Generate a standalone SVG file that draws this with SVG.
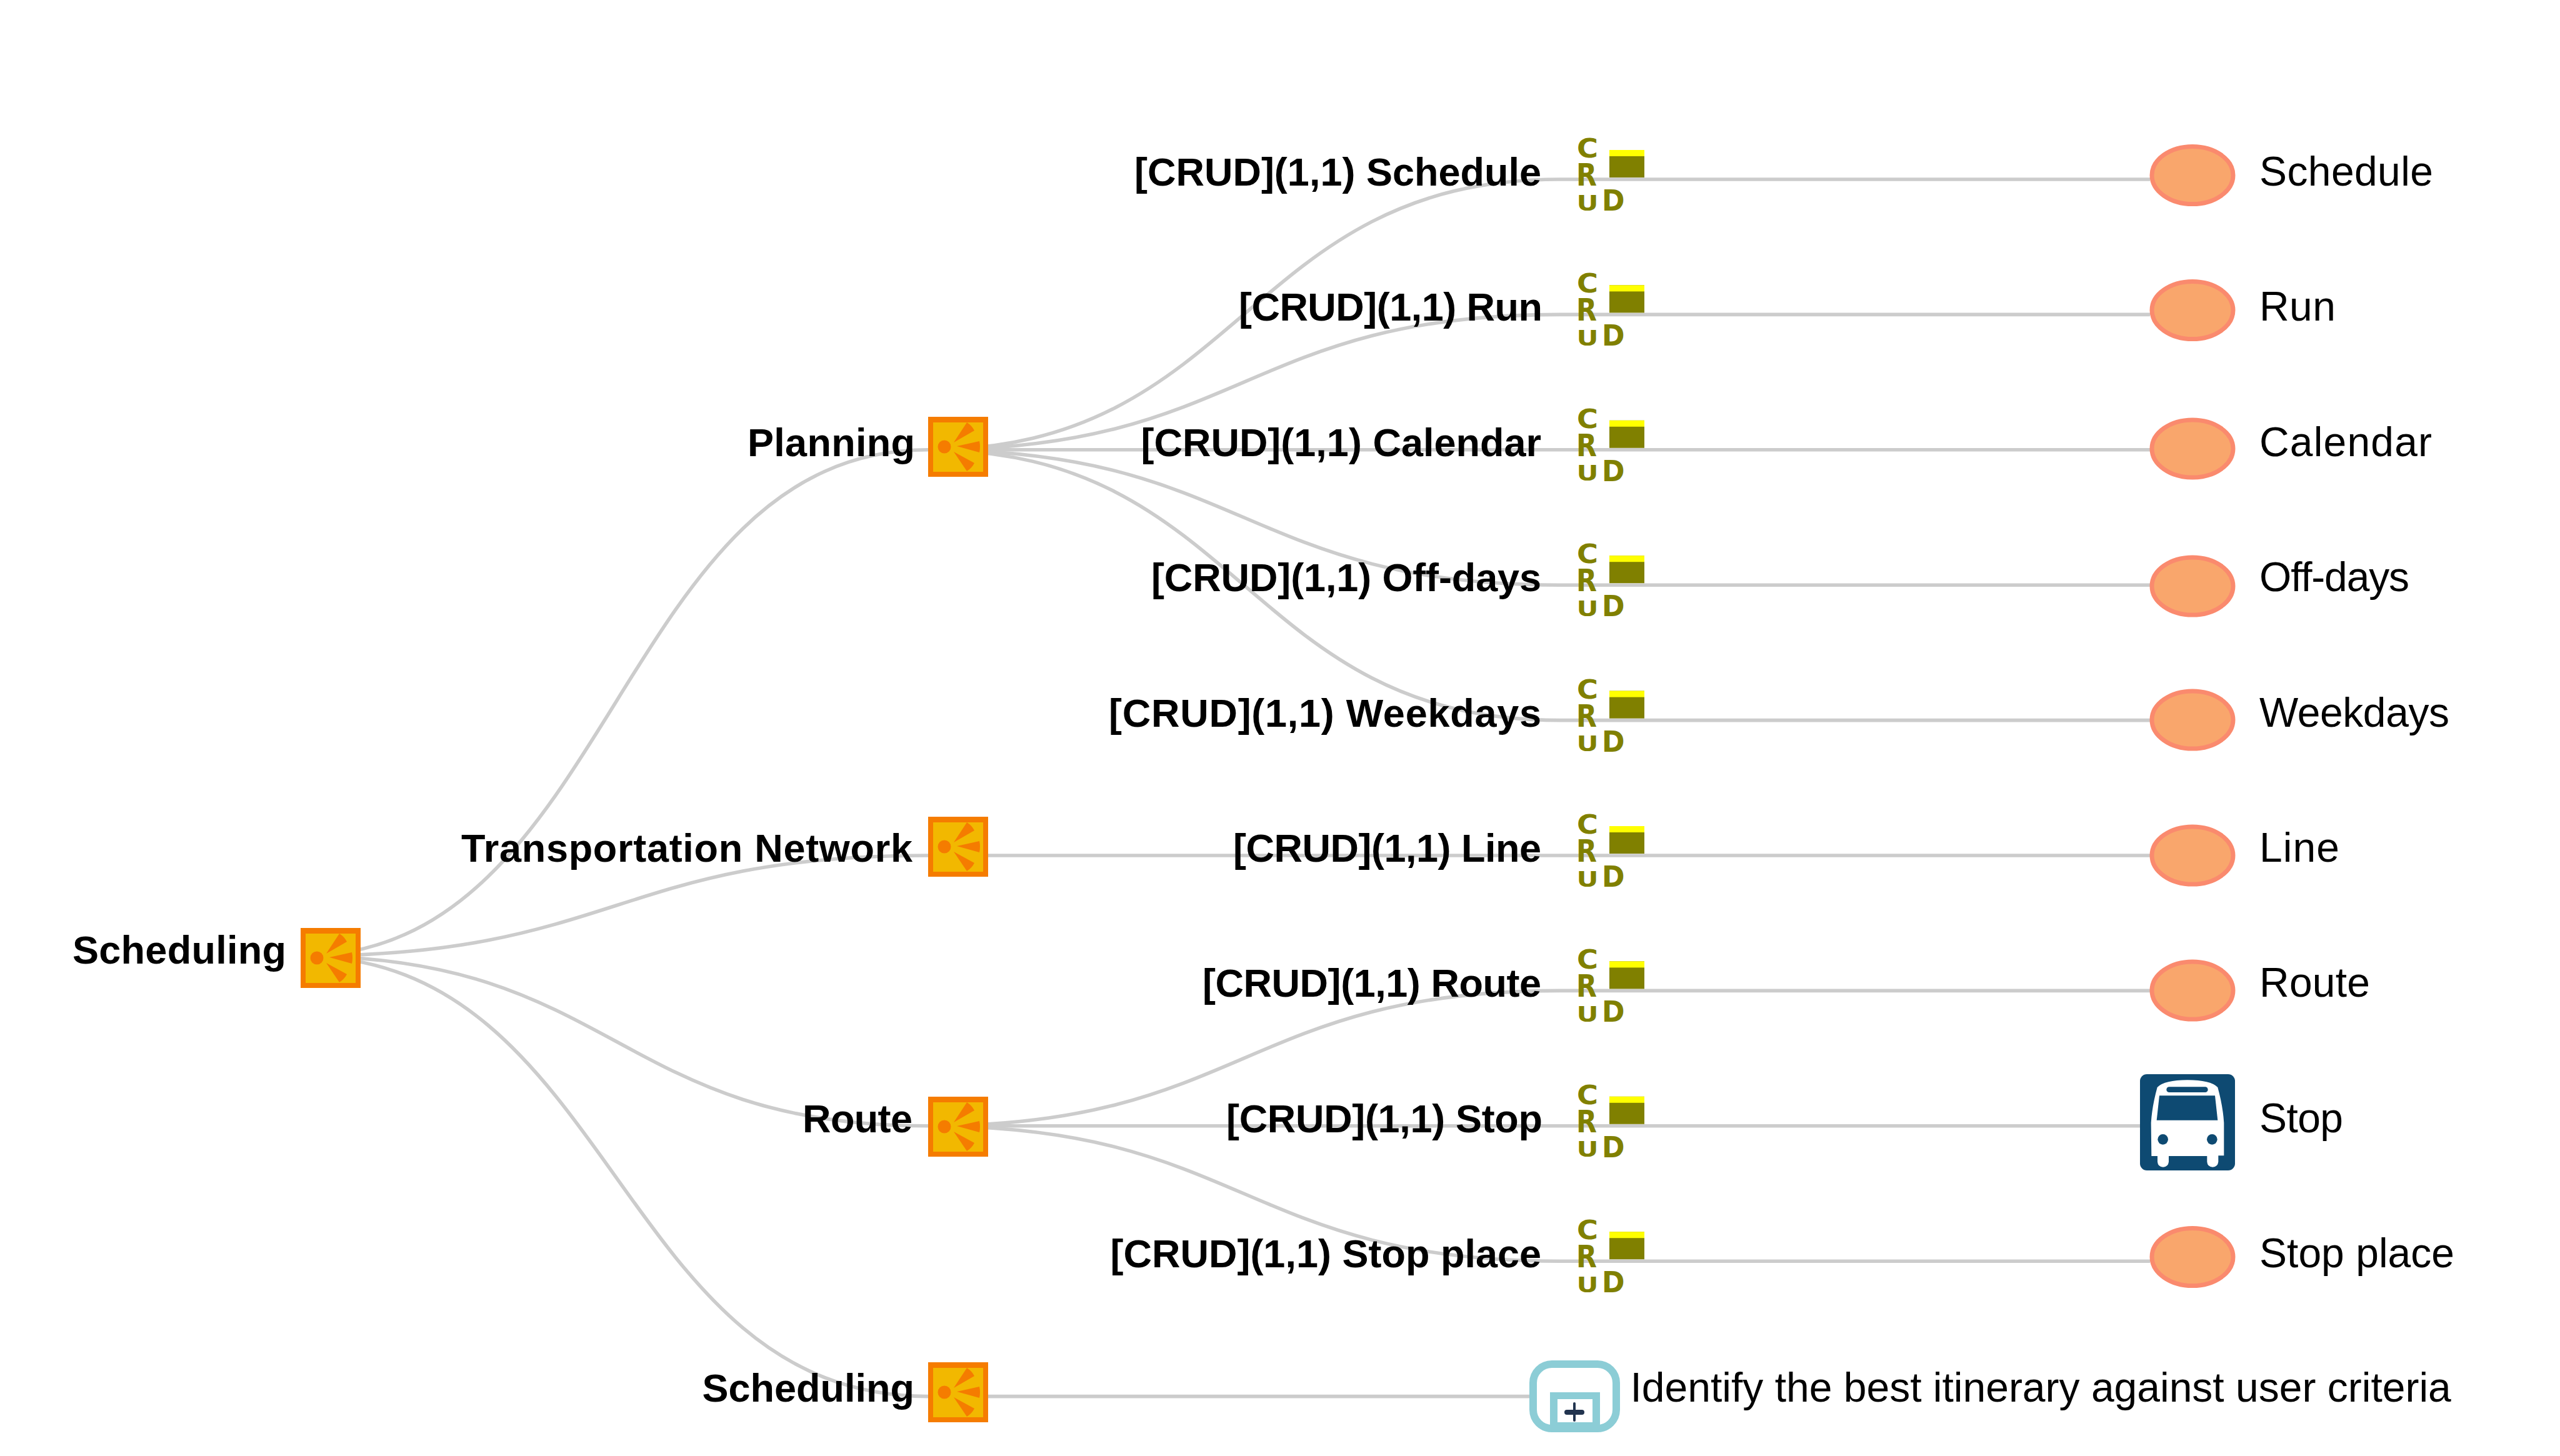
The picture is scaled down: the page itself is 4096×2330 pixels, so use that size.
<svg xmlns="http://www.w3.org/2000/svg" width="4096" height="2330" viewBox="0 0 4096 2330">
<style>
.c{fill:none;stroke:#ccc;stroke-width:5.6}
.b{font:bold 63px "Liberation Sans",Arial,sans-serif;fill:#000;text-anchor:end}
.t{font:66px "Liberation Sans",Arial,sans-serif;fill:#000}
.l{font-family:"DejaVu Sans",sans-serif;font-weight:bold;fill:#808000}
.e{fill:#f9a66c;stroke:#fa8a6e;stroke-width:7}
.o{fill:#808000}.y{fill:#ff0}
.n1{fill:#f57c00}.n2{fill:#f2b800}
</style>
<defs>
<g id="fn">
<rect class="n1" width="96" height="96"/>
<rect class="n2" x="8" y="9" width="80" height="79"/>
<circle class="n1" cx="26" cy="48" r="10.5"/>
<path class="n1" d="M41 41L62 9Q70 14 74 22ZM46 47L82 39Q84 48 82 57ZM41 56L74 74Q70 82 62 87Z"/>
</g>
</defs>
<g id="connectors">
<path class="c" d="M481 1530C985 1530 985 719.8 1485 719.8"/>
<path class="c" d="M481 1530C985 1530 985 1369 1485 1369"/>
<path class="c" d="M481 1530C985 1530 985 1801.8 1485 1801.8"/>
<path class="c" d="M481 1530C985 1530 985 2234.6 1485 2234.6"/>
<path class="c" d="M1485 719.8C1990 719.8 1990 287 2495 287"/>
<path class="c" d="M1485 719.8C1990 719.8 1990 503.4 2495 503.4"/>
<path class="c" d="M1485 719.8H2495"/>
<path class="c" d="M1485 719.8C1990 719.8 1990 936.2 2495 936.2"/>
<path class="c" d="M1485 719.8C1990 719.8 1990 1152.6 2495 1152.6"/>
<path class="c" d="M1485 1369H2495"/>
<path class="c" d="M1485 1801.8C1990 1801.8 1990 1585.4 2495 1585.4"/>
<path class="c" d="M1485 1801.8H2495"/>
<path class="c" d="M1485 1801.8C1990 1801.8 1990 2018.2 2495 2018.2"/>
<path class="c" d="M1485 2234.6H2447"/>
<path class="c" d="M2495 287H3440M2495 503.4H3440M2495 719.8H3440M2495 936.2H3440M2495 1152.6H3440M2495 1369H3440M2495 1585.4H3440M2495 1801.8H3424M2495 2018.2H3440"/>
</g>
<g id="root"><use href="#fn" x="481" y="1485"/><text class="b" x="458" y="1542" textLength="342">Scheduling</text></g>
<g id="planning"><use href="#fn" x="1485" y="667"/><text class="b" x="1464" y="730" textLength="268">Planning</text></g>
<g id="transportation"><use href="#fn" x="1485" y="1307"/><text class="b" x="1460" y="1379" textLength="722">Transportation Network</text></g>
<g id="route"><use href="#fn" x="1485" y="1755"/><text class="b" x="1460" y="1812" textLength="176">Route</text></g>
<g id="scheduling"><use href="#fn" x="1485" y="2180"/><text class="b" x="1463" y="2243">Scheduling</text></g>

<g id="crud1"><text class="b" x="2466" y="297">[CRUD](1,1) Schedule</text><text class="l" x="2523" y="252" font-size="42" textLength="34" lengthAdjust="spacingAndGlyphs">C</text><text class="l" x="2522" y="297" font-size="50" textLength="33" lengthAdjust="spacingAndGlyphs">R</text><text class="l" x="2522.5" y="336.5" font-size="34" textLength="35" lengthAdjust="spacingAndGlyphs">U</text><text class="l" x="2563" y="337" font-size="47" textLength="36.5" lengthAdjust="spacingAndGlyphs">D</text><rect class="o" x="2575" y="240" width="56" height="44"/><rect class="y" x="2575" y="240" width="56" height="10"/></g>
<g id="crud2"><text class="b" x="2468" y="513.4" textLength="486">[CRUD](1,1) Run</text><text class="l" x="2523" y="468.4" font-size="42" textLength="34" lengthAdjust="spacingAndGlyphs">C</text><text class="l" x="2522" y="513.4" font-size="50" textLength="33" lengthAdjust="spacingAndGlyphs">R</text><text class="l" x="2522.5" y="552.9" font-size="34" textLength="35" lengthAdjust="spacingAndGlyphs">U</text><text class="l" x="2563" y="553.4" font-size="47" textLength="36.5" lengthAdjust="spacingAndGlyphs">D</text><rect class="o" x="2575" y="456.4" width="56" height="44"/><rect class="y" x="2575" y="456.4" width="56" height="10"/></g>
<g id="crud3"><text class="b" x="2466" y="729.8">[CRUD](1,1) Calendar</text><text class="l" x="2523" y="684.8" font-size="42" textLength="34" lengthAdjust="spacingAndGlyphs">C</text><text class="l" x="2522" y="729.8" font-size="50" textLength="33" lengthAdjust="spacingAndGlyphs">R</text><text class="l" x="2522.5" y="769.3" font-size="34" textLength="35" lengthAdjust="spacingAndGlyphs">U</text><text class="l" x="2563" y="769.8" font-size="47" textLength="36.5" lengthAdjust="spacingAndGlyphs">D</text><rect class="o" x="2575" y="672.8" width="56" height="44"/><rect class="y" x="2575" y="672.8" width="56" height="10"/></g>
<g id="crud4"><text class="b" x="2466" y="946.2" textLength="624">[CRUD](1,1) Off-days</text><text class="l" x="2523" y="901.2" font-size="42" textLength="34" lengthAdjust="spacingAndGlyphs">C</text><text class="l" x="2522" y="946.2" font-size="50" textLength="33" lengthAdjust="spacingAndGlyphs">R</text><text class="l" x="2522.5" y="985.7" font-size="34" textLength="35" lengthAdjust="spacingAndGlyphs">U</text><text class="l" x="2563" y="986.2" font-size="47" textLength="36.5" lengthAdjust="spacingAndGlyphs">D</text><rect class="o" x="2575" y="889.2" width="56" height="44"/><rect class="y" x="2575" y="889.2" width="56" height="10"/></g>
<g id="crud5"><text class="b" x="2466" y="1162.6" textLength="692">[CRUD](1,1) Weekdays</text><text class="l" x="2523" y="1117.6" font-size="42" textLength="34" lengthAdjust="spacingAndGlyphs">C</text><text class="l" x="2522" y="1162.6" font-size="50" textLength="33" lengthAdjust="spacingAndGlyphs">R</text><text class="l" x="2522.5" y="1202.1" font-size="34" textLength="35" lengthAdjust="spacingAndGlyphs">U</text><text class="l" x="2563" y="1202.6" font-size="47" textLength="36.5" lengthAdjust="spacingAndGlyphs">D</text><rect class="o" x="2575" y="1105.6" width="56" height="44"/><rect class="y" x="2575" y="1105.6" width="56" height="10"/></g>
<g id="crud6"><text class="b" x="2466" y="1379" textLength="493">[CRUD](1,1) Line</text><text class="l" x="2523" y="1334" font-size="42" textLength="34" lengthAdjust="spacingAndGlyphs">C</text><text class="l" x="2522" y="1379" font-size="50" textLength="33" lengthAdjust="spacingAndGlyphs">R</text><text class="l" x="2522.5" y="1418.5" font-size="34" textLength="35" lengthAdjust="spacingAndGlyphs">U</text><text class="l" x="2563" y="1419" font-size="47" textLength="36.5" lengthAdjust="spacingAndGlyphs">D</text><rect class="o" x="2575" y="1322" width="56" height="44"/><rect class="y" x="2575" y="1322" width="56" height="10"/></g>
<g id="crud7"><text class="b" x="2466" y="1595.4" textLength="542">[CRUD](1,1) Route</text><text class="l" x="2523" y="1550.4" font-size="42" textLength="34" lengthAdjust="spacingAndGlyphs">C</text><text class="l" x="2522" y="1595.4" font-size="50" textLength="33" lengthAdjust="spacingAndGlyphs">R</text><text class="l" x="2522.5" y="1634.9" font-size="34" textLength="35" lengthAdjust="spacingAndGlyphs">U</text><text class="l" x="2563" y="1635.4" font-size="47" textLength="36.5" lengthAdjust="spacingAndGlyphs">D</text><rect class="o" x="2575" y="1538.4" width="56" height="44"/><rect class="y" x="2575" y="1538.4" width="56" height="10"/></g>
<g id="crud8"><text class="b" x="2468" y="1811.8" textLength="506">[CRUD](1,1) Stop</text><text class="l" x="2523" y="1766.8" font-size="42" textLength="34" lengthAdjust="spacingAndGlyphs">C</text><text class="l" x="2522" y="1811.8" font-size="50" textLength="33" lengthAdjust="spacingAndGlyphs">R</text><text class="l" x="2522.5" y="1851.3" font-size="34" textLength="35" lengthAdjust="spacingAndGlyphs">U</text><text class="l" x="2563" y="1851.8" font-size="47" textLength="36.5" lengthAdjust="spacingAndGlyphs">D</text><rect class="o" x="2575" y="1754.8" width="56" height="44"/><rect class="y" x="2575" y="1754.8" width="56" height="10"/></g>
<g id="crud9"><text class="b" x="2466" y="2028.2">[CRUD](1,1) Stop place</text><text class="l" x="2523" y="1983.2" font-size="42" textLength="34" lengthAdjust="spacingAndGlyphs">C</text><text class="l" x="2522" y="2028.2" font-size="50" textLength="33" lengthAdjust="spacingAndGlyphs">R</text><text class="l" x="2522.5" y="2067.7" font-size="34" textLength="35" lengthAdjust="spacingAndGlyphs">U</text><text class="l" x="2563" y="2068.2" font-size="47" textLength="36.5" lengthAdjust="spacingAndGlyphs">D</text><rect class="o" x="2575" y="1971.2" width="56" height="44"/><rect class="y" x="2575" y="1971.2" width="56" height="10"/></g>

<g id="e1"><ellipse class="e" cx="3508" cy="280.5" rx="65" ry="46"/><text class="t" x="3615" y="297" textLength="278">Schedule</text></g>
<g id="e2"><ellipse class="e" cx="3508" cy="496.5" rx="65" ry="46"/><text class="t" x="3615" y="513.4" textLength="122">Run</text></g>
<g id="e3"><ellipse class="e" cx="3508" cy="718" rx="65" ry="46"/><text class="t" x="3615" y="729.8" textLength="276">Calendar</text></g>
<g id="e4"><ellipse class="e" cx="3508" cy="938" rx="65" ry="46"/><text class="t" x="3615" y="946.2" textLength="240">Off-days</text></g>
<g id="e5"><ellipse class="e" cx="3508" cy="1152" rx="65" ry="46"/><text class="t" x="3615" y="1162.6" textLength="304">Weekdays</text></g>
<g id="e6"><ellipse class="e" cx="3508" cy="1369" rx="65" ry="46"/><text class="t" x="3615" y="1379" textLength="128">Line</text></g>
<g id="e7"><ellipse class="e" cx="3508" cy="1585" rx="65" ry="46"/><text class="t" x="3615" y="1595.4" textLength="177">Route</text></g>
<g id="e8"><rect x="3424" y="1719" width="152" height="154" rx="11" fill="#0e4a72"/>
<g transform="translate(3400 1700) scale(.3333)"><path fill="#fff" d="M155 120Q190 85 300 85Q410 85 445 120Q470 210 475 290V448H448V478Q445 503 421 503Q396 503 394 478V450H210V478Q207 503 183 503Q158 503 156 478V450H127L125 290Q130 210 155 120Z"/><path fill="#0e4a72" d="M165 160H432L445 278H152Z"/><rect fill="#0e4a72" x="199" y="118" width="199" height="26" rx="13"/><circle fill="#0e4a72" cx="182" cy="370" r="25"/><circle fill="#0e4a72" cx="418" cy="370" r="25"/></g>
<text class="t" x="3615" y="1811.8" textLength="134">Stop</text></g>
<g id="e9"><ellipse class="e" cx="3508" cy="2011.5" rx="65" ry="46"/><text class="t" x="3615" y="2028.2" textLength="312">Stop place</text></g>
<g id="process"><rect x="2453" y="2183" width="133" height="103" rx="30" fill="#fff" stroke="#8ccdd6" stroke-width="12"/>
<rect x="2480" y="2228" width="80" height="60" fill="#8ccdd6"/><rect x="2492" y="2239" width="56" height="37" fill="#fff"/>
<rect x="2503" y="2256" width="32" height="8" rx="4" fill="#22344f"/><rect x="2517" y="2244" width="4" height="31" rx="2" fill="#22344f"/>
<text class="t" x="2608.5" y="2243">Identify the best itinerary against user criteria</text></g>
</svg>
